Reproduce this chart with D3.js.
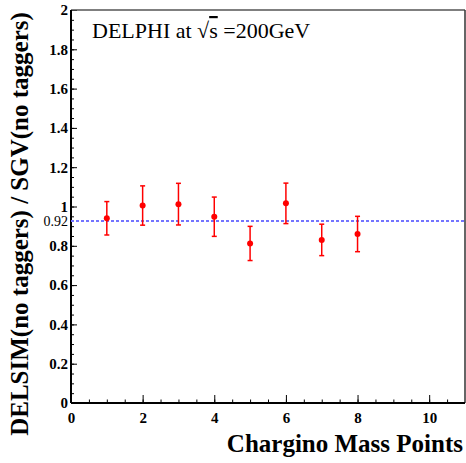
<!DOCTYPE html>
<html>
<head>
<meta charset="utf-8">
<script src="https://cdn.jsdelivr.net/npm/d3@7"></script>
<style>
  html, body { margin: 0; padding: 0; background: #fff; }
  svg { display: block; }
  .axis text { font-family: "Liberation Serif", "DejaVu Serif", serif; font-weight: bold; font-size: 15px; fill: #000; }
  .axis .domain { display: none; }
  .axis line { stroke: #000; stroke-width: 1; }
</style>
</head>
<body>
<script>
// chargino mass points and the DELSIM / SGV ratio (no taggers)
var massPoints = [1, 2, 3, 4, 5, 6, 7, 8];
var ratio = [0.94, 1.005, 1.012, 0.948, 0.812, 1.016, 0.83, 0.86];
var ratioErr = [0.085, 0.1, 0.106, 0.1, 0.087, 0.103, 0.08, 0.09];
var meanRatio = [0.926];
var meanLabel = ['0.92'];
var xTicks = [0, 2, 4, 6, 8, 10];
var yTicks = [0, 0.2, 0.4, 0.6, 0.8, 1, 1.2, 1.4, 1.6, 1.8, 2];

var width = 466, height = 463;
var margin = { top: 10, right: 1, bottom: 60, left: 71 };
var plotW = width - margin.left - margin.right;
var plotH = height - margin.top - margin.bottom;

var svg = d3.select('body').append('svg')
  .attr('width', width)
  .attr('height', height);

var g = svg.append('g')
  .attr('transform', 'translate(' + margin.left + ',' + margin.top + ')');

var x = d3.scaleLinear().domain([0, 11]).range([0, plotW]);
var y = d3.scaleLinear().domain([0, 2]).range([plotH, 0]);

// minor ticks
g.append('g')
  .attr('class', 'axis')
  .call(d3.axisLeft(y).tickValues(d3.range(0, 2.0001, 0.05)).tickSize(-3).tickFormat(''));
g.append('g')
  .attr('class', 'axis')
  .attr('transform', 'translate(0,' + plotH + ')')
  .call(d3.axisBottom(x).tickValues(d3.range(0, 11, 0.5)).tickSize(-3.5).tickFormat(''));

// major ticks
g.append('g')
  .attr('class', 'axis')
  .call(d3.axisLeft(y).tickValues(yTicks).tickSize(-6).tickPadding(3).tickFormat(d3.format('')));
g.append('g')
  .attr('class', 'axis')
  .attr('transform', 'translate(0,' + plotH + ')')
  .call(d3.axisBottom(x).tickValues(xTicks).tickSize(-8).tickPadding(6).tickFormat(d3.format('d')))
  .selectAll('text').attr('dy', '0.9em');

// frame
g.append('line').attr('x1', 0).attr('x2', plotW).attr('y1', 0).attr('y2', 0)
  .attr('stroke', '#555').attr('stroke-width', 1.5);
g.append('line').attr('x1', plotW).attr('x2', plotW).attr('y1', 0).attr('y2', plotH)
  .attr('stroke', '#333').attr('stroke-width', 1.5);
g.append('line').attr('x1', 0).attr('x2', 0).attr('y1', 0).attr('y2', plotH)
  .attr('stroke', '#000').attr('stroke-width', 2);
g.append('line').attr('x1', 0).attr('x2', plotW).attr('y1', plotH).attr('y2', plotH)
  .attr('stroke', '#000').attr('stroke-width', 2);

// mean line
g.selectAll('.mean').data(meanRatio).enter().append('line')
  .attr('class', 'mean')
  .attr('x1', 0).attr('x2', plotW)
  .attr('y1', function(d) { return y(d); })
  .attr('y2', function(d) { return y(d); })
  .attr('stroke', '#7373ff')
  .attr('stroke-width', 2)
  .attr('stroke-dasharray', '3,2');

g.selectAll('.meanLabel').data(meanRatio).enter().append('text')
  .attr('x', -3)
  .attr('y', function(d) { return y(d); })
  .attr('dy', '0.35em')
  .attr('text-anchor', 'end')
  .style('font-family', '"Liberation Serif", serif')
  .style('font-size', '14px')
  .text(function(d, i) { return meanLabel[i]; });

// points with error bars
var pts = massPoints.map(function(m, i) {
  return { m: m, v: ratio[i], e: ratioErr[i] };
});

var pg = g.selectAll('.pt').data(pts).enter().append('g').attr('class', 'pt');
pg.append('line')
  .attr('x1', function(d) { return x(d.m); })
  .attr('x2', function(d) { return x(d.m); })
  .attr('y1', function(d) { return y(d.v + d.e); })
  .attr('y2', function(d) { return y(d.v - d.e); })
  .attr('stroke', '#f00').attr('stroke-width', 1.5);
[1, -1].forEach(function(s) {
  pg.append('line')
    .attr('x1', function(d) { return x(d.m) - 2.5; })
    .attr('x2', function(d) { return x(d.m) + 2.5; })
    .attr('y1', function(d) { return y(d.v + s * d.e); })
    .attr('y2', function(d) { return y(d.v + s * d.e); })
    .attr('stroke', '#f00').attr('stroke-width', 1.5);
});
pg.append('circle')
  .attr('cx', function(d) { return x(d.m); })
  .attr('cy', function(d) { return y(d.v); })
  .attr('r', 3)
  .attr('fill', '#f00');

// DELPHI label
var lab = g.append('text')
  .attr('x', 21)
  .attr('y', 28)
  .style('font-family', '"Liberation Serif", serif')
  .style('font-size', '22px');
lab.append('tspan').text('DELPHI at \u221A');
lab.append('tspan').attr('text-decoration', 'overline').style('text-decoration', 'overline').text('s');
lab.append('tspan').text(' =200GeV');

// axis titles
svg.append('text')
  .attr('x', 463)
  .attr('y', 452)
  .attr('text-anchor', 'end')
  .style('font-family', '"Liberation Serif", serif')
  .style('font-weight', 'bold')
  .style('font-size', '25px')
  .text('Chargino Mass Points');

svg.append('text')
  .attr('transform', 'translate(28,' + 224 + ') rotate(-90)')
  .attr('text-anchor', 'middle')
  .style('font-family', '"Liberation Serif", serif')
  .style('font-weight', 'bold')
  .style('font-size', '25px')
  .text('DELSIM(no taggers) / SGV(no taggers)');
</script>
</body>
</html>
